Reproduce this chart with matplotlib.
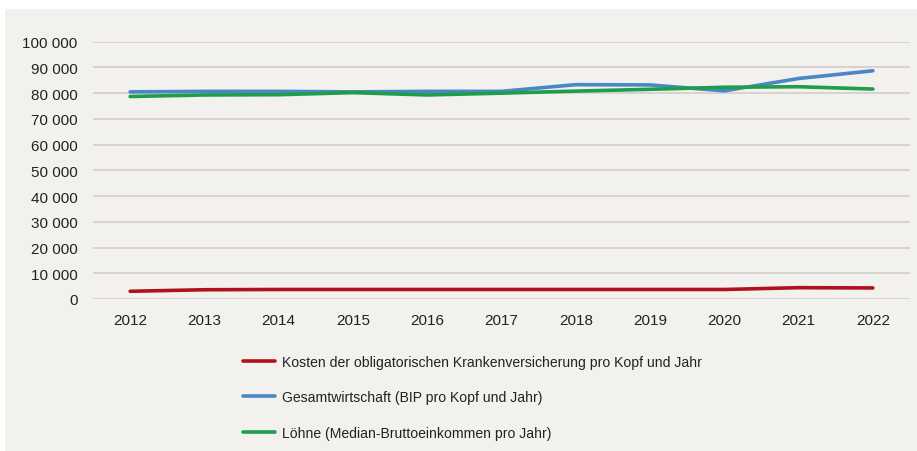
import matplotlib
matplotlib.use("Agg")
import matplotlib.pyplot as plt
from matplotlib.patches import Rectangle
from matplotlib.ticker import FuncFormatter

plt.rcParams['font.family'] = ['Liberation Sans', 'DejaVu Sans']

years = [2012, 2013, 2014, 2015, 2016, 2017, 2018, 2019, 2020, 2021, 2022]
kosten_okp = [3000, 3600, 3700, 3700, 3700, 3700, 3700, 3700, 3700, 4400, 4300]
bip_pro_kopf = [80500, 80700, 80700, 80500, 80700, 80700, 83300, 83200, 80900, 85700, 88700]
loehne_median = [78700, 79300, 79400, 80200, 79300, 80000, 80800, 81500, 82300, 82500, 81600]

labels = [
    "Kosten der obligatorischen Krankenversicherung pro Kopf und Jahr",
    "Gesamtwirtschaft (BIP pro Kopf und Jahr)",
    "Löhne (Median-Bruttoeinkommen pro Jahr)",
]
colors = ["#B0121B", "#4A87C6", "#1E9E48"]
panel_color = "#F3F1ED"
text_color = "#222222"

fig = plt.figure(figsize=(9.17, 4.52), dpi=100, facecolor="white")
# beige panel behind the chart
fig.patches.append(Rectangle((5 / 917, 0), 1, 1 - 10 / 452, transform=fig.transFigure,
                             facecolor=panel_color, edgecolor="none", zorder=-10))

ax = fig.add_axes([93 / 917, 152 / 452, (910 - 93) / 917, (300 - 42.7) / 452])
ax.set_facecolor("none")
ax.set_zorder(1)

lines = []
for vals, c, lab in zip([kosten_okp, bip_pro_kopf, loehne_median], colors, labels):
    ln, = ax.plot(years, vals, color=c, lw=2.6, solid_capstyle="round", label=lab, zorder=3)
    lines.append(ln)

ax.set_xlim(2011.5, 2022.5)
ax.set_ylim(0, 100000)
ax.set_xticks(years)
ax.set_yticks(range(0, 100001, 10000))
ax.yaxis.set_major_formatter(FuncFormatter(lambda v, p: f"{int(v):,}".replace(",", " ")))
ax.grid(axis="y", color="#CFCCC7", lw=1.1)
ax.set_axisbelow(True)
for s in ax.spines.values():
    s.set_visible(False)
ax.tick_params(axis="both", length=0, labelsize=11, labelcolor=text_color)
ax.tick_params(axis="y", pad=11)
ax.tick_params(axis="x", pad=10)

leg = fig.legend(handles=lines, loc="upper left", bbox_to_anchor=(236 / 917, 1 - 349 / 452),
                 frameon=False, fontsize=10.1, handlelength=2.3, handletextpad=0.45,
                 labelspacing=1.52, labelcolor=text_color, borderpad=0)
leg.set_zorder(2)

fig.savefig("out.png", dpi=100, facecolor=fig.get_facecolor())
